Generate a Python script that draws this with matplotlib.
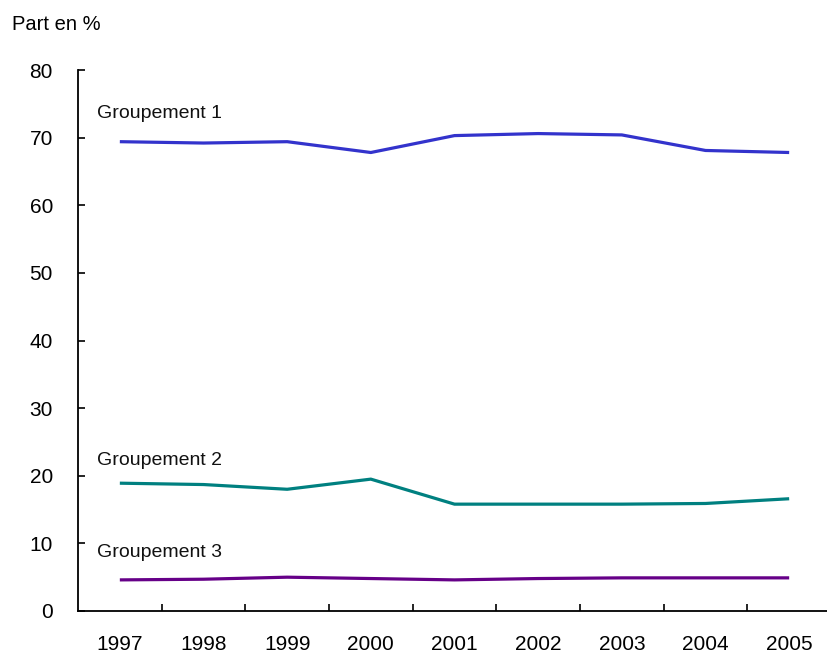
import matplotlib
matplotlib.use("Agg")
import matplotlib.pyplot as plt

plt.rcParams['font.family'] = ['Liberation Sans', 'DejaVu Sans']

# données
annees = ["1997", "1998", "1999", "2000", "2001", "2002", "2003", "2004", "2005"]
groupement_1 = [69.4, 69.2, 69.4, 67.8, 70.3, 70.6, 70.4, 68.1, 67.8]
groupement_2 = [18.9, 18.7, 18.0, 19.5, 15.8, 15.8, 15.8, 15.9, 16.6]
groupement_3 = [4.6, 4.7, 5.0, 4.8, 4.6, 4.8, 4.9, 4.9, 4.9]

series = [
    ("Groupement 1", groupement_1, "#3333cc", 73.5),
    ("Groupement 2", groupement_2, "#008080", 22.3),
    ("Groupement 3", groupement_3, "#660088", 8.7),
]

W, H = 828, 656
fig = plt.figure(figsize=(W / 100, H / 100), dpi=100)
ax = fig.add_axes([78 / W, 45 / H, 753 / W, 541 / H])

x = list(range(len(annees)))
for nom, valeurs, couleur, y_txt in series:
    ax.plot(x, valeurs, color=couleur, linewidth=2.3, solid_capstyle="butt")
    ax.text(-0.27, y_txt, nom, fontsize=14, color="#111111", va="center", ha="left")

ax.set_xlim(-0.5, 8.5)
ax.set_ylim(0, 80)
ax.set_yticks(range(0, 81, 10))
ax.set_xticks(x)
ax.set_xticklabels(annees)
ax.set_xticks([i + 0.5 for i in range(len(annees) - 1)], minor=True)

ax.tick_params(axis="x", which="major", length=0, pad=17, labelsize=15)
ax.tick_params(axis="x", which="minor", direction="in", length=5, width=1.2)
ax.tick_params(axis="y", direction="in", length=5, width=1.2, pad=18, labelsize=15)

for s in ["top", "right"]:
    ax.spines[s].set_visible(False)
for s in ["left", "bottom"]:
    ax.spines[s].set_linewidth(1.3)

fig.text(12 / W, 1 - 25 / H, "Part en %", fontsize=14.5, va="center", ha="left")

fig.savefig("out.png", dpi=100)
